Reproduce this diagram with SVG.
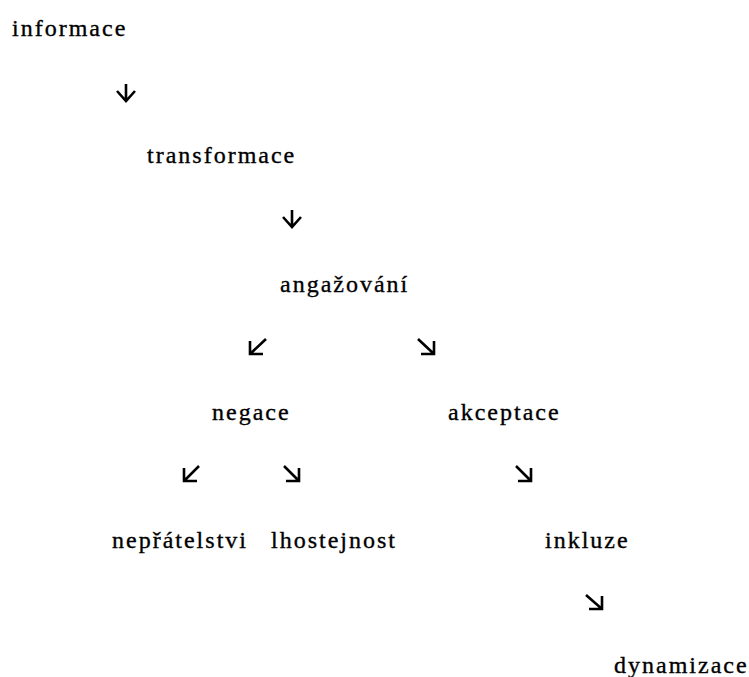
<svg xmlns="http://www.w3.org/2000/svg" width="749" height="677" viewBox="0 0 749 677">
<style>
.t{font-family:'Liberation Serif','Times New Roman',serif;font-size:24px;letter-spacing:2px;fill:#000;stroke:#000;stroke-width:0.35}
.c{fill:none;stroke:#000;stroke-width:2.6;stroke-linecap:butt;stroke-linejoin:miter}
</style>
<rect width="749" height="677" fill="#fff"/>
<g id="n-informace"><text class="t" x="12" y="36">informace</text></g>
<g id="n-transformace"><text class="t" x="147" y="163">transformace</text></g>
<g id="n-angazovani"><text class="t" x="280" y="292">angažování</text></g>
<g id="n-negace"><text class="t" x="212" y="420">negace</text></g>
<g id="n-akceptace"><text class="t" x="448" y="420">akceptace</text></g>
<g id="n-nepratelstvi"><text class="t" x="112" y="548">nepřátelstvi</text></g>
<g id="n-lhostejnost"><text class="t" x="271" y="548">lhostejnost</text></g>
<g id="n-inkluze"><text class="t" x="545" y="548">inkluze</text></g>
<g id="n-dynamizace"><text class="t" x="614" y="673">dynamizace</text></g>
<g id="connectors">
<path class="c" d="M126 84V101M117 91L126 101L135 91"/>
<path class="c" d="M292 210V227M283 217L292 227L301 217"/>
<path class="c" d="M266 339L250 354M250 341V354H263"/>
<path class="c" d="M418 339L434 354M434 341V354H421"/>
<path class="c" d="M199 466L184 481M184 468V481H197"/>
<path class="c" d="M284 466L299 481M299 468V481H286"/>
<path class="c" d="M516 466L531 481M531 468V481H518"/>
<path class="c" d="M586 595L602 609M602 596V609H589"/>
</g>
</svg>
